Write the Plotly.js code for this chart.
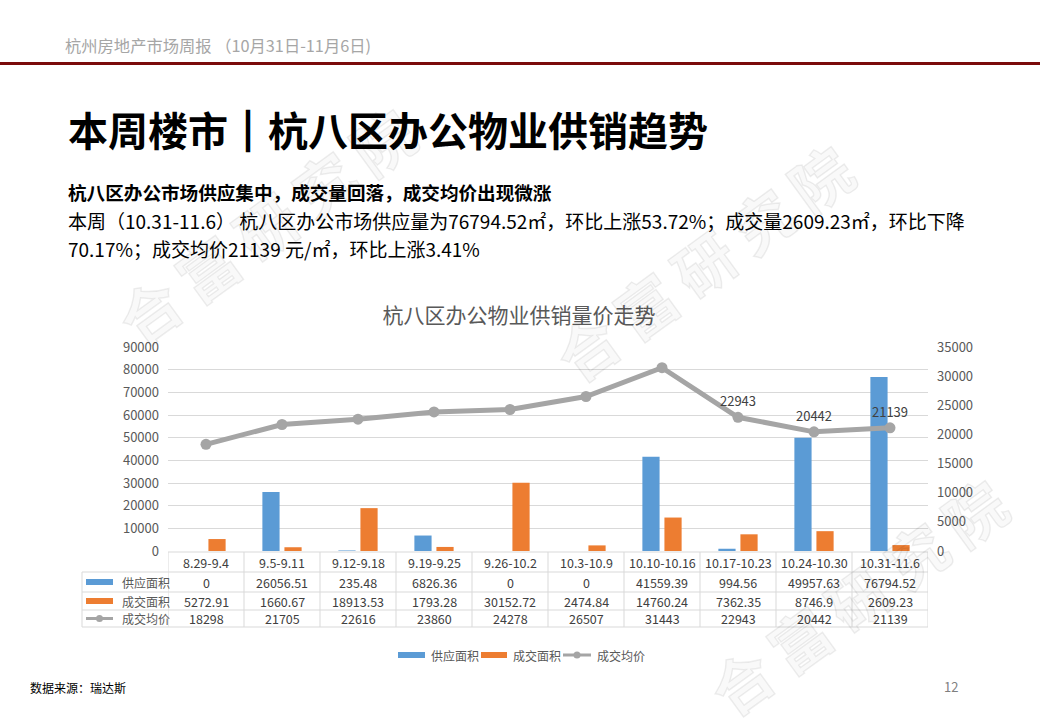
<!DOCTYPE html>
<html>
<head>
<meta charset="utf-8">
<script src="https://cdn.plot.ly/plotly-3.0.1.min.js"></script>
<style>
  html, body { margin: 0; padding: 0; background: #fff; }
  #page { position: relative; width: 1040px; height: 720px; overflow: hidden; font-family: "Noto Sans CJK SC", "Noto Sans", sans-serif; }
  #chart { position: absolute; left: 0; top: 0; width: 1040px; height: 720px; }
  .txt { position: absolute; white-space: nowrap; pointer-events: none; }
  .wm { position: absolute; white-space: nowrap; pointer-events: none; font-size: 60px; line-height: 60px; font-weight: 700;
        color: rgba(0,0,0,0.025); -webkit-text-stroke: 1.5px rgba(0,0,0,0.07); letter-spacing: 12px; padding-left: 12px; }
</style>
</head>
<body>
<div id="page">
  <div id="chart"></div>
  <div class="txt" style="left:65px; top:34px; font-size:16.3px; line-height:22px; color:#A6A6A6;">杭州房地产市场周报 （10月31日-11月6日)</div>
  <div style="position:absolute; left:0; top:62px; width:1040px; height:3px; background:#7A0A0A;"></div>
  <div class="txt" style="left:68px; top:104px; font-size:40px; line-height:50px; font-weight:700; color:#000;">本周楼市<span style="-webkit-text-stroke:2.5px #000;">｜</span>杭八区办公物业供销趋势</div>
  <div class="txt" style="left:68px; top:180px; font-size:18.6px; line-height:24px; font-weight:700; color:#000;">杭八区办公市场供应集中，成交量回落，成交均价出现微涨</div>
  <div class="txt" style="left:68px; top:207px; font-size:19px; line-height:28px; color:#000;">本周（10.31-11.6） 杭八区办公市场供应量为76794.52㎡，环比上涨53.72%；成交量2609.23㎡，环比下降<br>70.17%；成交均价21139 元/㎡，环比上涨3.41%</div>
  <div class="txt" style="left:30px; top:680px; font-size:12px; line-height:16px; color:#000;">数据来源：瑞达斯</div>
  <div class="txt" style="left:944px; top:679px; font-size:13px; line-height:16px; color:#7F7F7F;">12</div>
  <div class="wm" style="left:265px; top:225px; transform:translate(-50%,-50%) rotate(-36deg);">合富研究院</div>
  <div class="wm" style="left:703px; top:262px; transform:translate(-50%,-50%) rotate(-36deg);">合富研究院</div>
  <div class="wm" style="left:857px; top:596px; transform:translate(-50%,-50%) rotate(-36deg);">合富研究院</div>
</div>
<script>
// ---- data ----
const categories = ['8.29-9.4','9.5-9.11','9.12-9.18','9.19-9.25','9.26-10.2','10.3-10.9','10.10-10.16','10.17-10.23','10.24-10.30','10.31-11.6'];
const supplyName = '供应面积';
const dealName = '成交面积';
const priceName = '成交均价';
const supplyArea = [0, 26056.51, 235.48, 6826.36, 0, 0, 41559.39, 994.56, 49957.63, 76794.52];
const dealArea = [5272.91, 1660.67, 18913.53, 1793.28, 30152.72, 2474.84, 14760.24, 7362.35, 8746.9, 2609.23];
const avgPrice = [18298, 21705, 22616, 23860, 24278, 26507, 31443, 22943, 20442, 21139];
const priceLabelShown = [false, false, false, false, false, false, false, true, true, true];
const chartTitle = '杭八区办公物业供销量价走势';

// ---- geometry helpers (pixel -> paper) ----
const PL = 168, PR = 928, PT = 347, PB = 551;
const px = x => (x - PL) / (PR - PL);
const py = y => (PB - y) / (PB - PT);

const blue = '#5B9BD5', orange = '#ED7D31', gray = '#A5A5A5';
const gridC = '#D9D9D9', txtC = '#595959', cellC = '#404040';
const FONT = '"Noto Sans CJK SC", "Noto Sans", sans-serif';

const traces = [
  { type: 'bar', name: supplyName, x: categories, y: supplyArea, marker: { color: blue }, yaxis: 'y', hoverinfo: 'skip' },
  { type: 'bar', name: dealName, x: categories, y: dealArea, marker: { color: orange }, yaxis: 'y', hoverinfo: 'skip' },
  { type: 'scatter', mode: 'lines+markers+text', name: priceName, x: categories, y: avgPrice, yaxis: 'y2',
    line: { color: gray, width: 5 }, marker: { color: gray, size: 11 },
    text: avgPrice.map((v, i) => priceLabelShown[i] ? String(v) : ''),
    textposition: 'top center', textfont: { size: 13, color: cellC, family: FONT }, cliponaxis: false, hoverinfo: 'skip' }
];

const shapes = [];
const annotations = [];
const lineStyle = { color: gridC, width: 1 };
// table horizontal lines
shapes.push({ type: 'line', xref: 'paper', yref: 'paper', x0: 0, x1: 1, y0: py(552), y1: py(552), line: lineStyle });
[572, 592, 610, 627].forEach(y => shapes.push({ type: 'line', xref: 'paper', yref: 'paper', x0: px(82), x1: 1, y0: py(y), y1: py(y), line: lineStyle }));
// vertical lines
shapes.push({ type: 'line', xref: 'paper', yref: 'paper', x0: px(82), x1: px(82), y0: py(572), y1: py(627), line: lineStyle });
for (let i = 0; i <= categories.length; i++) {
  shapes.push({ type: 'line', xref: 'x', yref: 'paper', x0: i - 0.5, x1: i - 0.5, y0: py(552), y1: py(627), line: lineStyle });
}

// key glyph helper (rect for bars, line+dot for the line series)
function addKey(kind, color, x0, x1, yc) {
  if (kind === 'bar') {
    shapes.push({ type: 'rect', xref: 'paper', yref: 'paper', x0: px(x0), x1: px(x1), y0: py(yc + 3), y1: py(yc - 3), fillcolor: color, line: { width: 0 } });
  } else {
    const xm = (x0 + x1) / 2;
    shapes.push({ type: 'line', xref: 'paper', yref: 'paper', x0: px(x0), x1: px(x1), y0: py(yc), y1: py(yc), line: { color: color, width: 3 } });
    shapes.push({ type: 'circle', xref: 'paper', yref: 'paper', x0: px(xm - 3.5), x1: px(xm + 3.5), y0: py(yc + 3.5), y1: py(yc - 3.5), fillcolor: color, line: { width: 0 } });
  }
}

// row labels in table
const seriesKeys = [['bar', blue, supplyName], ['bar', orange, dealName], ['line', gray, priceName]];
const rowY = [582, 601, 618.5];
seriesKeys.forEach((k, r) => {
  addKey(k[0], k[1], 86, 113, rowY[r]);
  annotations.push({ xref: 'paper', yref: 'paper', x: px(120), y: py(rowY[r]), xanchor: 'left', yanchor: 'middle', text: k[2], showarrow: false, font: { size: 12, color: txtC, family: FONT } });
});

// table cells
const rows = [supplyArea, dealArea, avgPrice];
categories.forEach((c, i) => {
  annotations.push({ xref: 'x', yref: 'paper', x: c, y: py(562), xanchor: 'center', yanchor: 'middle', text: c, showarrow: false, font: { size: 12.5, color: cellC, family: FONT } });
  rows.forEach((arr, r) => annotations.push({ xref: 'x', yref: 'paper', x: c, y: py(rowY[r]), xanchor: 'center', yanchor: 'middle', text: String(arr[i]), showarrow: false, font: { size: 12.5, color: cellC, family: FONT } }));
});

// legend below the table
const legendX = [[398, 425, 429], [481, 507, 511], [563, 591, 595]];
seriesKeys.forEach((k, j) => {
  addKey(k[0], k[1], legendX[j][0], legendX[j][1], 655);
  annotations.push({ xref: 'paper', yref: 'paper', x: px(legendX[j][2]), y: py(655), xanchor: 'left', yanchor: 'middle', text: k[2], showarrow: false, font: { size: 12, color: txtC, family: FONT } });
});

const layout = {
  width: 1040, height: 720,
  margin: { l: PL, r: 1040 - PR, t: PT, b: 720 - PB, pad: 0 },
  paper_bgcolor: 'rgba(0,0,0,0)', plot_bgcolor: 'rgba(0,0,0,0)',
  font: { family: FONT, color: txtC, size: 13 },
  title: { text: chartTitle, font: { size: 21, color: txtC, family: FONT }, xref: 'paper', x: px(519), xanchor: 'center', yref: 'container', y: 1 - 316 / 720, yanchor: 'middle' },
  barmode: 'group', bargap: 0.42, bargroupgap: 0.22,
  xaxis: { type: 'category', showticklabels: false, showgrid: false, zeroline: false, showline: false, ticks: '', range: [-0.5, categories.length - 0.5], fixedrange: true },
  yaxis: { range: [0, 90000], dtick: 10000, tickformat: 'd', showgrid: true, gridcolor: gridC, gridwidth: 1, zeroline: false, showline: false, ticks: '', ticklabelstandoff: 8, tickfont: { size: 13, color: txtC }, fixedrange: true },
  yaxis2: { range: [0, 35000], dtick: 5000, tickformat: 'd', overlaying: 'y', side: 'right', showgrid: false, zeroline: false, showline: false, ticks: '', ticklabelstandoff: 8, tickfont: { size: 13, color: txtC }, fixedrange: true },
  showlegend: false,
  shapes: shapes,
  annotations: annotations
};

Plotly.newPlot('chart', traces, layout, { displayModeBar: false, staticPlot: true });
</script>
</body>
</html>
